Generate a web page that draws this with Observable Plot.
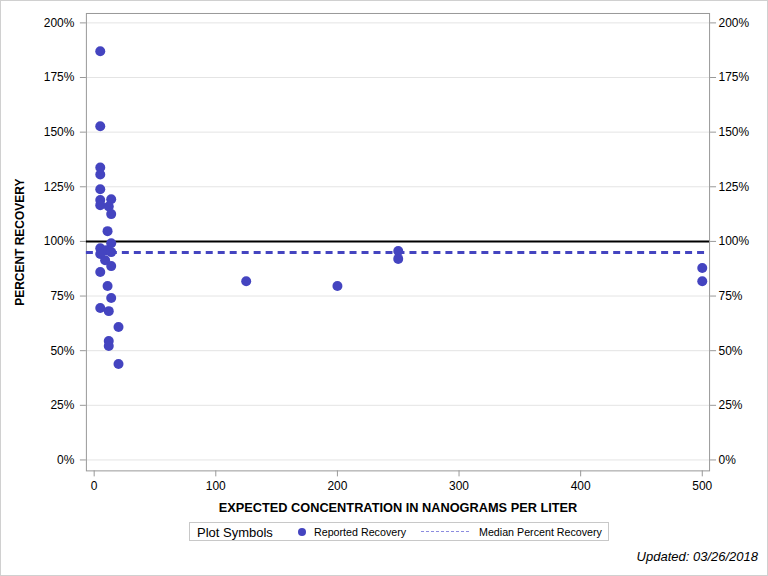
<!DOCTYPE html>
<html>
<head>
<meta charset="utf-8">
<script src="https://cdn.jsdelivr.net/npm/d3@7"></script>
<script src="https://cdn.jsdelivr.net/npm/@observablehq/plot@0.6"></script>
<style>
  html, body { margin: 0; padding: 0; background: #fff; }
  #wrap { position: relative; width: 766px; height: 574px; border: 1px solid #d0d0d0; background: #fff; font-family: "Liberation Sans", Arial, sans-serif; overflow: hidden; }
  #chart { position: absolute; left: -1px; top: -1px; }
  #legend { position: absolute; left: 188px; top: 521px; width: 420px; height: 19px; border: 1px solid #c8c8c8; box-sizing: border-box; font-size: 10.7px; color: #000; }
  #legend .t { position: absolute; left: 7px; top: 2px; font-size: 13px; }
  #legend .dot { position: absolute; left: 108px; top: 5px; width: 8px; height: 8px; border-radius: 50%; background: #4444c0; }
  #legend .l1 { position: absolute; left: 124px; top: 3px; }
  #legend .dash { position: absolute; left: 231px; top: 8px; width: 48px; border-top: 1px dashed #8c8ce0; }
  #legend .l2 { position: absolute; left: 289px; top: 3px; }
  #updated { position: absolute; right: 9px; top: 548px; font-size: 13px; font-style: italic; color: #000; }
</style>
</head>
<body>
<div id="wrap">
  <div id="chart"></div>
  <div id="legend">
    <span class="t">Plot Symbols</span>
    <span class="dot"></span>
    <span class="l1">Reported Recovery</span>
    <span class="dash"></span>
    <span class="l2">Median Percent Recovery</span>
  </div>
  <div id="updated">Updated: 03/26/2018</div>
</div>
<script>
const concentration = [5, 5, 5, 5, 5, 5, 5, 14, 12, 14, 11, 14, 5, 10, 14, 5, 9, 14, 5, 11, 14, 5, 12, 20, 12, 12, 20, 125, 200, 250, 250, 500, 500];
const recovery = [187.0, 152.7, 133.8, 130.6, 123.9, 118.9, 116.6, 119.3, 116.0, 112.5, 104.7, 99.2, 96.9, 96.0, 95.1, 94.2, 91.4, 88.7, 86.0, 79.6, 74.1, 69.5, 68.1, 60.8, 54.4, 52.1, 43.9, 81.8, 79.6, 95.6, 92.0, 87.8, 81.8];
const medianRecovery = 94.9;
const referenceRecovery = 100;
const xTicks = [0, 100, 200, 300, 400, 500];
const yTicks = [0, 25, 50, 75, 100, 125, 150, 175, 200];
const xTitle = "EXPECTED CONCENTRATION IN NANOGRAMS PER LITER";
const yTitle = "PERCENT RECOVERY";

const data = concentration.map((c, i) => ({c, r: recovery[i]}));
const blue = "#4444c0";

const chart = Plot.plot({
  width: 768,
  height: 520,
  marginLeft: 86,
  marginRight: 58,
  marginTop: 13,
  marginBottom: 49,
  x: {domain: [-6.4, 506]},
  y: {domain: [-5, 204.3]},
  style: {fontFamily: "'Liberation Sans', Arial, sans-serif", fontSize: "12px", background: "white", color: "#000"},
  marks: [
    Plot.gridY(yTicks, {stroke: "#e4e4e4", strokeOpacity: 1}),
    Plot.frame({stroke: "#999"}),
    Plot.axisY(yTicks, {anchor: "left", tickFormat: d => d + "%", tickSize: 6, tickPadding: 6, label: null, stroke: "#999", fontSize: 12}),
    Plot.axisY(yTicks, {anchor: "right", tickFormat: d => d + "%", tickSize: 6, tickPadding: 3, label: null, stroke: "#999", fontSize: 12}),
    Plot.axisX(xTicks, {anchor: "bottom", tickSize: 6, tickPadding: 5, label: null, stroke: "#999", fontSize: 12}),
    Plot.ruleY([referenceRecovery], {stroke: "black", strokeWidth: 2}),
    Plot.ruleY([medianRecovery], {stroke: blue, strokeWidth: 3, strokeDasharray: "7,5"}),
    Plot.dot(data, {x: "c", y: "r", r: 5, fill: blue, stroke: "none"}),
    Plot.text([yTitle], {frameAnchor: "left", dx: -66, rotate: -90, textAnchor: "middle", lineAnchor: "middle", fontWeight: "bold", fontSize: 12}),
    Plot.text([xTitle], {frameAnchor: "bottom", dy: 37, textAnchor: "middle", lineAnchor: "middle", fontWeight: "bold", fontSize: 12.8})
  ]
});
document.getElementById("chart").appendChild(chart);
</script>
</body>
</html>
